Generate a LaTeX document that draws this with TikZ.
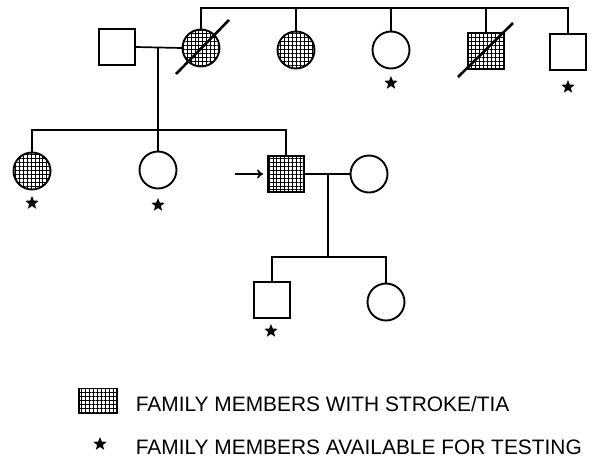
\documentclass[tikz,border=0pt]{standalone}
\usepackage{fontspec}
\setmainfont{Liberation Sans}
\usetikzlibrary{patterns.meta}
\usetikzlibrary{shapes.geometric}
\usetikzlibrary{arrows.meta}

\tikzset{
    male/.style={draw, rectangle, minimum size=36pt, inner sep=0pt, line width=1.9pt},
    female/.style={draw, circle, minimum size=37pt, inner sep=0pt, line width=1.9pt},
    affected/.style={pattern={Hatch[distance=3.9pt, line width=0.9pt]}},
    avail/.style={star, star points=5, star point ratio=2.3, fill, inner sep=0pt, minimum size=14pt},
    keytext/.style={anchor=base west, inner sep=0pt, font=\fontsize{20.9}{24}\selectfont},
}

\begin{document}
\begin{tikzpicture}[x=1pt, y=-1pt, line width=1.7pt]
        \useasboundingbox (0,0) rectangle (589,459);
        % generation I
        \node[male] (I1) at (117,47) {};
        \node[female, affected] (I2) at (201,48) {};
        \node[female, affected] (I3) at (296,50) {};
        \node[female] (I4) at (391,50) {};
        \node[male, affected] (I5) at (486,51) {};
        \node[male] (I6) at (568,52) {};
        % generation II
        \node[female, affected] (II1) at (32,171) {};
        \node[female] (II2) at (158,170) {};
        \node[male, affected] (II3) at (286,174) {};
        \node[female] (II4) at (369,174) {};
        % generation III
        \node[male] (III1) at (272,300) {};
        \node[female] (III2) at (386,302) {};

        \coordinate (top) at (0,8);
        \coordinate (sib2) at (0,130);
        \coordinate (m2) at (328,174);
        \coordinate (sib3) at (328,257);
        \coordinate (pb) at (235,174);

        \draw (I2.north) -- (I2 |- top) -- (I6 |- top) -- (I6.north);
        \draw (I3.north) -- (I3 |- top);
        \draw (I4.north) -- (I4 |- top);
        \draw (I5.north) -- (I5 |- top);
        \draw (I1.east) -- (I2.west);
        \draw (II2.north) -- (II2 |- I1);
        \draw (II1.north) -- (II1 |- sib2) -- (II3 |- sib2) -- (II3.north);
        \draw (II3.east) -- (II4.west);
        \draw (m2) -- (sib3);
        \draw (III1.north) -- (III1 |- sib3) -- (III2 |- sib3) -- (III2.north);
        \draw[-{To[length=6pt, width=9pt]}, shorten >=4pt] (pb) -- (II3.west);

        % deceased
        \draw[line width=2.6pt] (I2) ++(-25,26) -- ++(53,-54);
        \draw[line width=2.6pt] (I5) ++(-28,26) -- ++(55,-54);

        % available for testing
        \node[avail] (s1) at (391,83) {};
        \node[avail] (s2) at (568,87) {};
        \node[avail] (s3) at (32,203) {};
        \node[avail] (s4) at (158,205) {};
        \node[avail] (s5) at (271,331) {};

        % key
        \node[draw, affected, line width=1.9pt, minimum width=38pt, minimum height=25pt] (key1) at (98,401) {};
        \node[keytext] (txt1) at (135,411) {FAMILY MEMBERS WITH STROKE/TIA};
        \node[avail] (key2) at (100,444) {};
        \node[keytext] (txt2) at (135,454) {FAMILY MEMBERS AVAILABLE FOR TESTING};
    \end{tikzpicture}
\end{document}
